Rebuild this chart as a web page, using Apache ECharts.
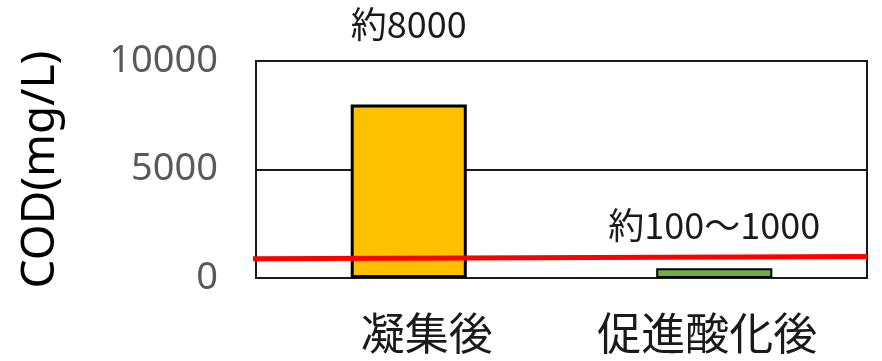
<!DOCTYPE html>
<html>
<head>
<meta charset="utf-8">
<script src="https://cdn.jsdelivr.net/npm/echarts@6/dist/echarts.min.js"></script>
<style>
  html, body { margin: 0; padding: 0; background: #fff; }
  #chart { width: 882px; height: 361px; }
</style>
</head>
<body>
<div id="chart"></div>
<script>
// COD before/after advanced oxidation
const categories = ['凝集後', '促進酸化後'];
const codValues = [8000, 450];
const valueLabels = ['約8000', '約100～1000'];
const yTicks = [0, 5000, 10000];
// reference level drawn across the plot (x runs 0..1 across the plot width)
const limitLine = [[-0.007, 885], [1, 990]];

const barColors = ['#FFC000', '#70AD47'];
const barBorders = [3, 2];
const labelGaps = [62, 25];
const catLabelShift = [36, -14];

const chart = echarts.init(document.getElementById('chart'));
const cjk = '"Noto Sans CJK JP", "Noto Sans", sans-serif';

chart.setOption({
  animation: false,
  backgroundColor: '#fff',
  grid: {
    left: 256, right: 15, top: 61, bottom: 83,
    outerBoundsMode: 'none', containLabel: false,
    show: true, borderColor: '#1a1a1a', borderWidth: 2, backgroundColor: 'transparent'
  },
  xAxis: [{
    type: 'category',
    data: categories.map((c, i) => ({
      value: c,
      textStyle: { padding: catLabelShift[i] > 0 ? [0, 0, 0, catLabelShift[i]] : [0, -catLabelShift[i], 0, 0] }
    })),
    axisLine: { show: true, lineStyle: { color: '#1a1a1a', width: 2 } },
    axisTick: { show: false },
    axisLabel: { color: '#1a1a1a', fontSize: 44, fontFamily: cjk, margin: 33 }
  }, {
    type: 'value', min: 0, max: 1, show: false
  }],
  yAxis: {
    type: 'value',
    min: yTicks[0], max: yTicks[yTicks.length - 1], interval: yTicks[1] - yTicks[0],
    name: 'COD(mg/L)',
    nameLocation: 'middle',
    nameGap: 192,
    nameRotate: 90,
    nameTextStyle: { color: '#000', fontSize: 46, fontFamily: '"Noto Sans", sans-serif' },
    axisLine: { show: false },
    axisTick: { show: false },
    splitLine: { show: true, lineStyle: { color: '#1a1a1a', width: 2 } },
    axisLabel: {
      color: '#595959', fontSize: 38, fontFamily: '"Noto Sans", sans-serif', margin: 38,
      formatter: v => String(v)
    }
  },
  series: [{
    type: 'bar',
    xAxisIndex: 0,
    barWidth: '38%',
    data: codValues.map((v, i) => ({
      value: v,
      itemStyle: { color: barColors[i], borderColor: '#000', borderWidth: barBorders[i] },
      label: {
        show: true, position: 'top', distance: labelGaps[i],
        formatter: valueLabels[i],
        color: '#1a1a1a', fontSize: 36, fontFamily: cjk
      }
    }))
  }, {
    type: 'line',
    xAxisIndex: 1,
    data: limitLine,
    symbol: 'none',
    clip: false,
    lineStyle: { color: '#FF0000', width: 5 },
    z: 5
  }]
});
</script>
</body>
</html>
